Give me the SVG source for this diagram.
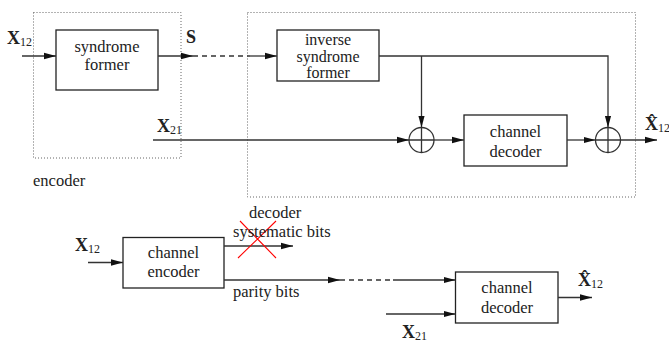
<svg xmlns="http://www.w3.org/2000/svg" width="669" height="343" viewBox="0 0 669 343">
<style>
text{font-family:"Liberation Serif","DejaVu Serif","Times New Roman",serif}
.t{font-size:16.5px;fill:#222;text-anchor:middle}
.t2{font-size:16px;fill:#222;text-anchor:middle}
.tl{font-size:16.5px;fill:#222}
.v{font-weight:bold;font-size:18px;fill:#222}
.s{font-weight:normal;font-size:12px}
.box{fill:#fff;stroke:#222;stroke-width:1.3}
.ln{fill:none;stroke:#333;stroke-width:1.3}
.dash{fill:none;stroke:#333;stroke-width:1.3;stroke-dasharray:5,4}
.dot{fill:none;stroke:#666;stroke-width:1;stroke-dasharray:1,2}
</style>
<defs>
<marker id="ah" markerWidth="12" markerHeight="8" refX="12" refY="4" orient="auto" markerUnits="userSpaceOnUse">
<path d="M0,0.8 L12,4 L0,7.2 Z" fill="#111"/>
</marker>
</defs>
<rect width="669" height="343" fill="#fff"/>
<g id="encoder-region">
<rect class="dot" x="33.5" y="12.5" width="147.5" height="145.5"/>
<text class="tl" x="33" y="186">encoder</text>
</g>
<g id="decoder-region">
<rect class="dot" x="247.5" y="12.5" width="388" height="184.5"/>
</g>
<g id="syndrome-former">
<rect class="box" x="56" y="30" width="102" height="60"/>
<text class="t" x="107" y="52">syndrome</text>
<text class="t" x="107" y="70">former</text>
</g>
<g id="inverse-syndrome-former">
<rect class="box" x="277" y="30" width="102" height="51"/>
<text class="t2" x="328" y="45">inverse</text>
<text class="t2" x="328" y="61.5">syndrome</text>
<text class="t2" x="328" y="78">former</text>
</g>
<g id="adder1">
<circle class="ln" cx="421.5" cy="140" r="12.5"/>
<path class="ln" d="M409,140 H434 M421.5,127.5 V152.5"/>
</g>
<g id="channel-decoder-top">
<rect class="box" x="464" y="115" width="103" height="51"/>
<text class="t" x="515.5" y="136.5">channel</text>
<text class="t" x="515.5" y="156.5">decoder</text>
</g>
<g id="adder2">
<circle class="ln" cx="608" cy="140" r="12.5"/>
<path class="ln" d="M595.5,140 H620.5 M608,127.5 V152.5"/>
</g>
<g id="channel-encoder">
<rect class="box" x="123" y="237.5" width="101" height="50.5"/>
<text class="t" x="173.5" y="258">channel</text>
<text class="t" x="173.5" y="276.5">encoder</text>
</g>
<g id="channel-decoder-bottom">
<rect class="box" x="455.5" y="272" width="102.5" height="51"/>
<text class="t" x="507" y="293">channel</text>
<text class="t" x="507" y="313">decoder</text>
</g>
<g id="connectors">
<path class="ln" d="M22,56 H56" marker-end="url(#ah)"/>
<path class="ln" d="M158,56 H193" marker-end="url(#ah)"/>
<path class="dash" d="M193,56 H250"/>
<path class="ln" d="M250,56 H277" marker-end="url(#ah)"/>
<path class="ln" d="M379,56 H608 V127.5" marker-end="url(#ah)"/>
<path class="ln" d="M421.5,56 V127.5" marker-end="url(#ah)"/>
<path class="ln" d="M153,140 H409" marker-end="url(#ah)"/>
<path class="ln" d="M434,140 H464" marker-end="url(#ah)"/>
<path class="ln" d="M567,140 H595.5" marker-end="url(#ah)"/>
<path class="ln" d="M620.5,140 H657" marker-end="url(#ah)"/>
<path class="ln" d="M88,262.5 H123" marker-end="url(#ah)"/>
<path class="ln" d="M224,246 H293" marker-end="url(#ah)"/>
<path class="ln" d="M224,280 H340" marker-end="url(#ah)"/>
<path class="dash" d="M340,280 H393"/>
<path class="ln" d="M393,280 H455.5" marker-end="url(#ah)"/>
<path class="ln" d="M386,314 H455.5" marker-end="url(#ah)"/>
<path class="ln" d="M558,297.5 H592" marker-end="url(#ah)"/>
<path d="M240,221 L276,258 M276,221 L238,258" stroke="#f00" stroke-width="1.1" fill="none"/>
</g>
<g id="labels">
<text class="v" x="7" y="44">X<tspan class="s" dy="2">12</tspan></text>
<text class="v" x="186" y="43">S</text>
<text class="v" x="157" y="132">X<tspan class="s" dy="2">21</tspan></text>
<text class="v" x="645" y="130">X̂<tspan class="s" dy="2">12</tspan></text>
<text class="v" x="75" y="251">X<tspan class="s" dy="2">12</tspan></text>
<text class="tl" x="249" y="218">decoder</text>
<text class="tl" x="233" y="237">systematic bits</text>
<text class="tl" x="233" y="297">parity bits</text>
<text class="v" x="578" y="286">X̂<tspan class="s" dy="2">12</tspan></text>
<text class="v" x="402" y="338">X<tspan class="s" dy="2">21</tspan></text>
</g>
</svg>
